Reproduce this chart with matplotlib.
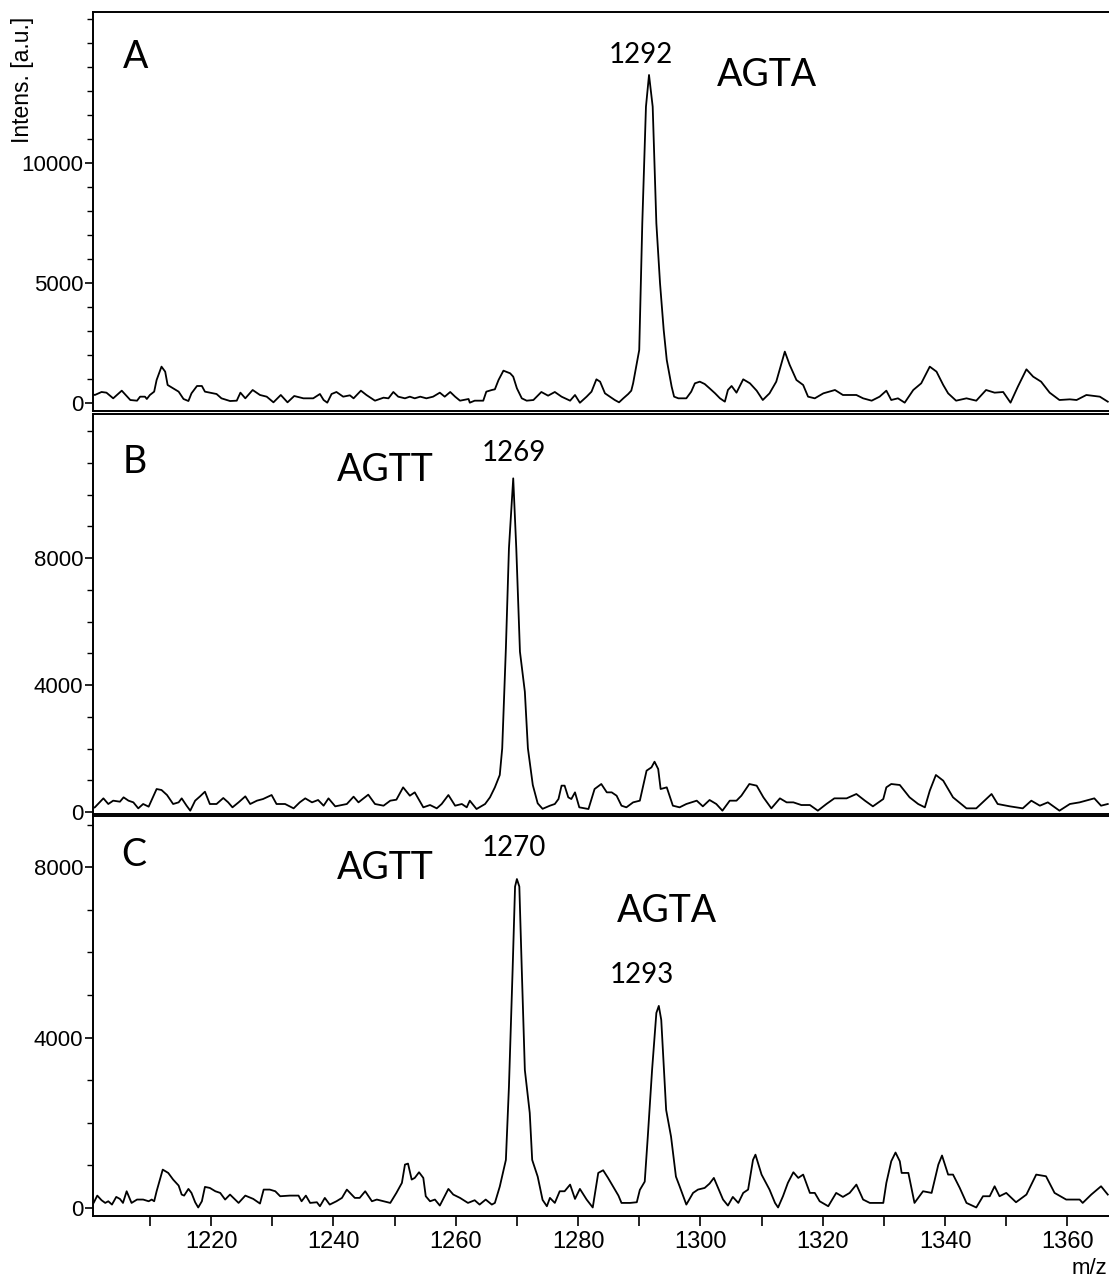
import matplotlib
matplotlib.use("Agg")
import matplotlib.pyplot as plt
from matplotlib.ticker import MultipleLocator, FixedLocator
import numpy as np

plt.rcParams['font.family'] = ['Liberation Sans', 'DejaVu Sans']

# spectrum A (m/z, intensity)
mz_a = [1200.2, 1201.0, 1202.1, 1202.9, 1204.0, 1205.4, 1206.8, 1207.9, 1208.4, 1209.2,
        1209.5, 1210.0, 1210.7, 1211.1, 1211.9, 1212.5, 1212.9, 1213.8, 1214.7, 1215.5,
        1216.3, 1216.8, 1217.7, 1218.5, 1219.0, 1219.8, 1220.9, 1221.7, 1223.1, 1224.2,
        1224.8, 1225.6, 1226.8, 1228.0, 1229.1, 1230.2, 1231.4, 1232.5, 1233.6, 1235.1,
        1236.7, 1237.8, 1238.4, 1239.0, 1239.7, 1240.5, 1241.6, 1242.7, 1243.3, 1244.5,
        1245.4, 1246.8, 1248.2, 1249.0, 1249.8, 1250.6, 1251.7, 1252.5, 1253.3, 1254.2,
        1255.2, 1256.3, 1257.4, 1258.2, 1259.1, 1259.9, 1260.7, 1262.1, 1262.3, 1263.1,
        1264.5, 1265.0, 1265.9, 1266.4, 1267.0, 1267.8, 1268.9, 1269.4, 1270.0, 1270.8,
        1271.6, 1272.7, 1274.0, 1275.1, 1276.2, 1277.3, 1278.7, 1279.5, 1280.3, 1281.4,
        1282.2, 1283.0, 1283.6, 1284.4, 1285.2, 1286.0, 1286.7, 1287.4, 1288.2, 1288.7,
        1289.0, 1290.0, 1290.5, 1291.1, 1291.6, 1292.2, 1292.8, 1293.4, 1294.0, 1294.5,
        1295.3, 1295.7, 1296.4, 1297.7, 1298.5, 1299.1, 1299.9, 1300.7, 1301.5, 1302.4,
        1303.2, 1304.0, 1304.5, 1305.1, 1305.9, 1307.0, 1308.1, 1309.2, 1310.2, 1311.3,
        1312.4, 1313.8, 1314.6, 1315.7, 1316.8, 1317.6, 1318.7, 1320.1, 1322.0, 1323.3,
        1325.5, 1326.6, 1328.0, 1329.3, 1330.4, 1331.2, 1332.3, 1333.4, 1334.8, 1336.1,
        1337.5, 1338.6, 1339.7, 1340.5, 1341.8, 1343.5, 1345.1, 1346.7, 1348.1, 1349.5,
        1350.7, 1351.9, 1353.3, 1354.4, 1355.7, 1357.1, 1358.7, 1360.4, 1361.5, 1363.1,
        1365.3, 1366.6]
int_a = [403, 334, 459, 431, 195, 514, 125, 97, 264, 264,
         167, 334, 473, 959, 1515, 1307, 751, 612, 473, 167,
         83, 403, 709, 709, 473, 431, 375, 195, 83, 97,
         431, 195, 542, 334, 264, 28, 334, 28, 292, 195,
         195, 375, 125, 14, 375, 459, 264, 320, 195, 514,
         334, 97, 222, 195, 459, 264, 195, 264, 195, 264,
         195, 264, 431, 264, 459, 264, 97, 167, 14, 97,
         97, 473, 542, 570, 959, 1348, 1237, 1098, 612, 195,
         97, 125, 459, 306, 459, 264, 97, 334, 10, 264,
         473, 987, 889, 403, 264, 125, 28, 195, 375, 514,
         820, 2208, 7488, 12346, 13667, 12346, 7488, 4988, 3042, 1792,
         680, 264, 195, 195, 473, 820, 889, 792, 612, 403,
         195, 56, 542, 709, 431, 987, 820, 514, 125, 403,
         889, 2141, 1585, 959, 751, 264, 195, 403, 542, 334,
         334, 195, 97, 264, 514, 125, 195, 14, 542, 820,
         1515, 1307, 751, 403, 97, 195, 97, 542, 431, 459,
         14, 681, 1404, 1098, 889, 431, 125, 153, 125, 334,
         264, 56]

# spectrum B
mz_b = [1200.2, 1201.0, 1202.4, 1203.2, 1204.0, 1205.1, 1205.7, 1206.5, 1207.3, 1208.1,
        1208.9, 1209.8, 1210.6, 1211.1, 1211.9, 1212.8, 1213.8, 1214.7, 1215.2, 1216.0,
        1216.6, 1217.4, 1218.2, 1219.0, 1219.8, 1220.9, 1222.0, 1222.8, 1223.5, 1224.5,
        1225.6, 1226.4, 1227.5, 1228.5, 1229.9, 1230.7, 1232.1, 1233.5, 1234.5, 1235.4,
        1236.5, 1237.5, 1238.4, 1239.2, 1240.3, 1242.2, 1243.3, 1244.1, 1245.7, 1246.8,
        1248.2, 1249.3, 1250.3, 1251.4, 1252.5, 1253.3, 1254.7, 1255.8, 1256.9, 1257.7,
        1258.8, 1259.9, 1261.0, 1261.8, 1262.3, 1263.4, 1264.8, 1265.6, 1266.4, 1267.2,
        1267.6, 1268.2, 1268.7, 1269.4, 1269.9, 1270.5, 1271.3, 1271.8, 1272.6, 1273.4,
        1274.2, 1275.4, 1276.2, 1276.8, 1277.3, 1277.8, 1278.4, 1278.9, 1279.5, 1280.2,
        1281.7, 1282.7, 1283.8, 1284.7, 1285.5, 1286.3, 1287.1, 1287.9, 1289.0, 1290.1,
        1291.2, 1292.0, 1292.5, 1293.1, 1293.5, 1294.5, 1295.5, 1296.6, 1297.7, 1299.4,
        1300.4, 1301.5, 1302.6, 1303.6, 1304.8, 1305.9, 1306.7, 1308.0, 1309.2, 1310.3,
        1311.6, 1313.0, 1314.1, 1315.2, 1316.5, 1317.9, 1319.2, 1320.6, 1321.9, 1323.9,
        1325.5, 1326.9, 1328.2, 1329.9, 1330.4, 1331.2, 1332.6, 1334.2, 1335.6, 1336.7,
        1337.5, 1338.5, 1339.7, 1341.3, 1343.5, 1345.1, 1347.6, 1348.6, 1350.6, 1352.7,
        1354.1, 1355.5, 1356.8, 1358.7, 1360.4, 1362.0, 1364.4, 1365.5, 1366.6]
int_b = [94, 147, 430, 252, 357, 325, 462, 357, 304, 115,
         252, 168, 514, 724, 693, 535, 252, 304, 430, 199,
         42, 357, 493, 640, 252, 252, 441, 304, 147, 304,
         493, 252, 357, 409, 535, 252, 252, 115, 304, 430,
         304, 378, 199, 430, 178, 252, 483, 304, 546, 252,
         199, 357, 388, 777, 514, 619, 147, 220, 115, 252,
         535, 199, 252, 147, 357, 94, 252, 462, 777, 1166,
         2006, 5157, 8307, 10512, 8307, 5050, 3790, 2006, 850, 273,
         100, 199, 252, 409, 830, 830, 462, 409, 619, 147,
         94, 724, 882, 619, 619, 514, 199, 147, 304, 357,
         1302, 1407, 1585, 1354, 724, 777, 199, 147, 252, 357,
         178, 378, 252, 42, 357, 357, 514, 882, 830, 462,
         115, 430, 304, 304, 220, 220, 42, 252, 430, 430,
         567, 357, 178, 409, 777, 882, 851, 462, 252, 147,
         672, 1166, 987, 462, 115, 115, 567, 252, 178, 115,
         357, 199, 304, 42, 252, 304, 430, 199, 252]

# spectrum C
mz_c = [1200.2, 1200.8, 1201.4, 1202.1, 1202.7, 1203.2, 1203.8, 1204.5, 1205.1, 1205.6,
        1206.2, 1207.0, 1207.9, 1208.9, 1209.8, 1210.3, 1210.7, 1211.1, 1212.1, 1213.0,
        1213.8, 1214.7, 1215.2, 1215.6, 1216.3, 1216.8, 1217.4, 1217.9, 1218.5, 1219.0,
        1219.8, 1220.7, 1221.5, 1222.3, 1223.1, 1224.5, 1225.6, 1226.9, 1228.0, 1228.6,
        1229.6, 1230.5, 1231.3, 1232.9, 1234.3, 1234.8, 1235.5, 1236.2, 1237.3, 1237.8,
        1238.6, 1239.4, 1240.5, 1241.4, 1242.2, 1243.5, 1244.3, 1245.2, 1246.3, 1247.1,
        1248.2, 1249.3, 1250.3, 1251.2, 1251.7, 1252.2, 1252.8, 1253.3, 1254.0, 1254.7,
        1255.1, 1255.8, 1256.6, 1257.4, 1258.8, 1259.6, 1260.7, 1262.0, 1263.1, 1263.9,
        1264.9, 1265.9, 1266.4, 1267.2, 1268.2, 1268.7, 1269.3, 1269.7, 1270.0, 1270.4,
        1270.8, 1271.3, 1272.1, 1272.5, 1273.4, 1274.2, 1274.9, 1275.4, 1276.2, 1277.0,
        1277.8, 1278.7, 1279.5, 1280.3, 1281.4, 1282.4, 1283.3, 1284.1, 1284.9, 1285.7,
        1286.6, 1287.1, 1288.5, 1289.6, 1290.1, 1290.9, 1291.4, 1292.1, 1292.8, 1293.2,
        1293.6, 1294.4, 1295.2, 1296.0, 1296.6, 1297.7, 1298.8, 1299.6, 1300.7, 1301.5,
        1302.2, 1302.9, 1303.7, 1304.5, 1305.3, 1306.2, 1307.0, 1307.8, 1308.6, 1309.0,
        1310.0, 1311.3, 1312.2, 1312.7, 1313.5, 1314.3, 1315.2, 1316.0, 1316.8, 1317.9,
        1318.7, 1319.5, 1320.9, 1322.2, 1323.3, 1324.4, 1325.5, 1326.6, 1327.7, 1329.9,
        1330.4, 1331.2, 1331.9, 1332.6, 1332.9, 1334.0, 1335.0, 1336.4, 1337.8, 1338.9,
        1339.5, 1340.5, 1341.3, 1342.4, 1343.5, 1345.1, 1346.2, 1347.3, 1348.1, 1348.9,
        1350.0, 1351.6, 1353.3, 1354.9, 1356.5, 1357.9, 1359.8, 1362.0, 1362.5, 1363.9,
        1365.5, 1366.6]
int_c = [117, 117, 289, 180, 117, 156, 78, 258, 211, 117,
         391, 117, 196, 196, 156, 196, 156, 391, 899, 821,
         665, 524, 313, 289, 446, 352, 133, 10, 156, 493,
         469, 391, 352, 196, 313, 117, 289, 211, 102, 430,
         430, 391, 274, 289, 289, 156, 289, 117, 133, 39,
         235, 78, 156, 235, 430, 235, 235, 391, 156, 196,
         156, 117, 352, 587, 1017, 1040, 665, 704, 837, 704,
         274, 156, 196, 55, 446, 313, 235, 117, 180, 78,
         196, 78, 117, 500, 1127, 2848, 5587, 7543, 7720, 7543,
         5587, 3239, 2230, 1127, 735, 188, 39, 235, 117, 391,
         391, 547, 211, 446, 196, 10, 821, 884, 704, 508,
         289, 117, 117, 133, 423, 617, 1674, 3239, 4577, 4742,
         4413, 2300, 1674, 735, 508, 78, 352, 430, 469, 571,
         704, 469, 196, 55, 258, 117, 352, 430, 1127, 1250,
         782, 430, 117, 10, 274, 587, 837, 704, 782, 352,
         352, 156, 39, 352, 258, 352, 547, 196, 117, 117,
         587, 1095, 1300, 1095, 821, 821, 117, 391, 352, 1017,
         1230, 782, 782, 469, 117, 10, 274, 274, 508, 274,
         352, 133, 313, 782, 743, 352, 196, 196, 117, 313,
         508, 313]

ylims = [(-333, 16290), (-63, 12540), (-190, 9200)]
yticks_major = [[0, 5000, 10000], [0, 4000, 8000], [0, 4000, 8000]]

# (text, x, y, size) for each panel
notes = [
    [("A", 1207.6, 14400, 27), ("1292", 1290.3, 14500, 20), ("AGTA", 1310.8, 13670, 27)],
    [("B", 1207.6, 11025, 27), ("AGTT", 1248.4, 10773, 27), ("1269", 1269.5, 11324, 20)],
    [("C", 1207.3, 8290, 27), ("AGTT", 1248.4, 7980, 27), ("1270", 1269.5, 8440, 20),
     ("AGTA", 1294.6, 6970, 27), ("1293", 1290.5, 5470, 20)],
]

W, H = 1109, 1278


def main():
    fig = plt.figure(figsize=(W / 100, H / 100), dpi=100)
    # pixel rows of each panel (top, bottom)
    rows = [(12, 411), (414, 814), (816, 1216)]
    left = 93 / W
    data = [(mz_a, int_a), (mz_b, int_b), (mz_c, int_c)]
    for i, (top, bot) in enumerate(rows):
        ax = fig.add_axes([left, 1 - bot / H, 1 - left, (bot - top) / H])
        mz, inten = data[i]
        ax.plot(mz, inten, color="black", lw=1.3)
        ax.set_xlim(1200.7, 1366.8)
        ax.set_ylim(*ylims[i])
        ax.spines["right"].set_visible(False)
        for s in ["left", "top", "bottom"]:
            ax.spines[s].set_linewidth(1.4)
        ax.yaxis.set_major_locator(FixedLocator(yticks_major[i]))
        ax.yaxis.set_minor_locator(MultipleLocator(1000))
        ax.tick_params(axis="y", which="major", length=6, width=1.2, labelsize=16, pad=1)
        ax.tick_params(axis="y", which="minor", length=4, width=1.0)
        if i < 2:
            ax.tick_params(axis="x", which="both", bottom=False, labelbottom=False)
        else:
            ax.xaxis.set_major_locator(FixedLocator(np.arange(1220, 1361, 20)))
            ax.xaxis.set_minor_locator(FixedLocator(np.arange(1210, 1361, 20)))
            ax.tick_params(axis="x", which="both", length=7, width=1.2)
            ax.tick_params(axis="x", which="major", labelsize=17, pad=4)
        for txt, x, y, sz in notes[i]:
            ax.text(x, y, txt, ha="center", va="center", fontsize=sz,
                    family=["Lato", "DejaVu Sans"])

    fig.text(22 / W, 1 - 80 / H, "Intens. [a.u.]", rotation=90, ha="center", va="center",
             fontsize=16.5)
    fig.text(1107 / W, 1 - 1268 / H, "m/z", ha="right", va="center", fontsize=16)

    fig.savefig("out.png", dpi=100)


if __name__ == '__main__':
    main()
